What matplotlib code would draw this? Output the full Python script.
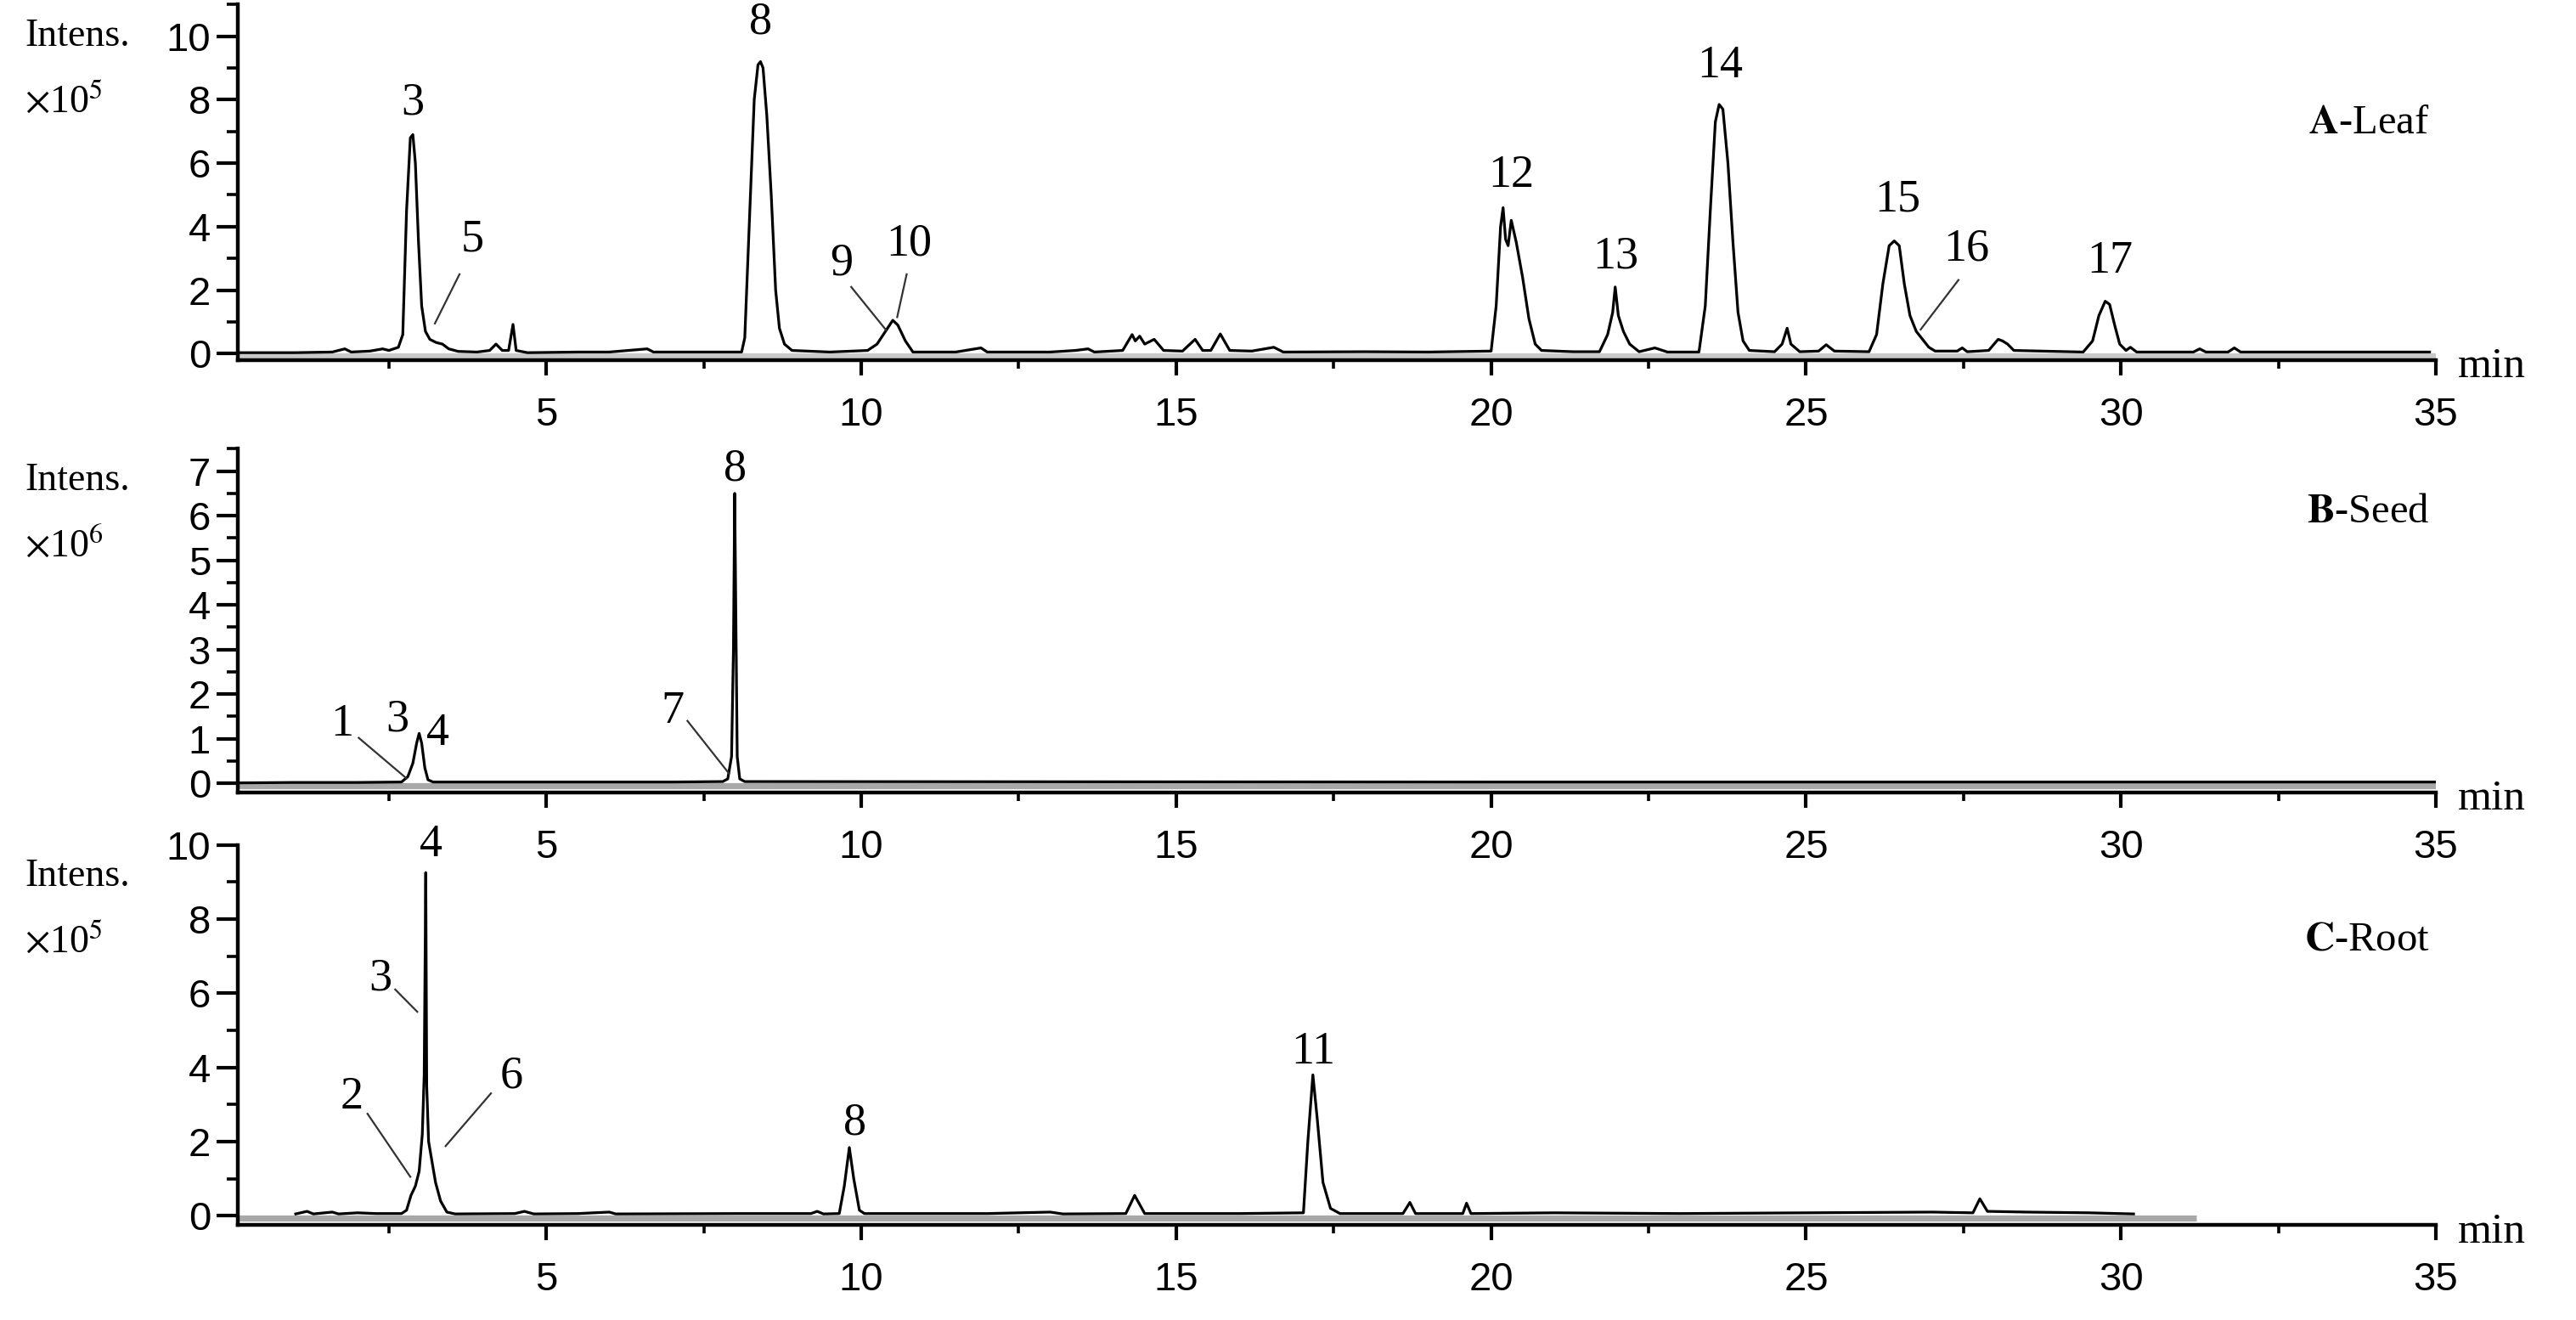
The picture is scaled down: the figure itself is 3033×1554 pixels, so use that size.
import matplotlib
matplotlib.use('Agg')
import matplotlib.pyplot as plt
from matplotlib.ticker import MultipleLocator

plt.rcParams['mathtext.fontset'] = 'stix'
SANS = 'Liberation Sans'
SERIF = 'Liberation Serif'

# ---------------- data ----------------
# Panel A - Leaf, intensity in 1e5
leaf_trace = [
    (0.1, 0.03), (1.0, 0.03), (1.6, 0.05), (1.8, 0.15), (1.9, 0.05), (2.2, 0.08), (2.4, 0.15),
    (2.5, 0.1), (2.65, 0.2), (2.72, 0.6), (2.78, 4.5), (2.84, 6.8), (2.88, 6.9), (2.92, 6.0),
    (2.97, 3.5), (3.02, 1.5), (3.08, 0.7), (3.15, 0.45), (3.25, 0.35), (3.35, 0.3), (3.45, 0.15),
    (3.6, 0.07), (3.9, 0.05), (4.1, 0.1), (4.2, 0.3), (4.3, 0.1), (4.4, 0.1), (4.47, 0.92),
    (4.52, 0.1), (4.7, 0.03), (5.5, 0.05), (6.0, 0.05), (6.6, 0.15), (6.7, 0.05), (7.5, 0.05),
    (8.1, 0.05), (8.15, 0.5), (8.22, 4.0), (8.30, 8.0), (8.36, 9.1), (8.40, 9.2), (8.44, 9.0),
    (8.50, 7.5), (8.57, 5.0), (8.64, 2.0), (8.70, 0.8), (8.78, 0.3), (8.9, 0.1), (9.5, 0.05),
    (10.1, 0.1), (10.25, 0.3), (10.4, 0.75), (10.5, 1.05), (10.58, 0.9), (10.7, 0.4), (10.82, 0.05),
    (11.5, 0.05), (11.9, 0.18), (12.0, 0.05), (13.0, 0.05), (13.4, 0.1), (13.6, 0.15), (13.7, 0.05),
    (14.15, 0.1), (14.3, 0.6), (14.35, 0.4), (14.42, 0.55), (14.5, 0.3), (14.65, 0.45), (14.8, 0.1),
    (15.1, 0.08), (15.3, 0.45), (15.42, 0.1), (15.55, 0.1), (15.7, 0.62), (15.85, 0.1), (16.2, 0.08),
    (16.55, 0.2), (16.7, 0.05), (18.0, 0.06), (19.0, 0.05), (20.0, 0.08), (20.08, 1.5), (20.15, 4.0),
    (20.19, 4.6), (20.23, 3.6), (20.27, 3.4), (20.32, 4.2), (20.40, 3.5), (20.50, 2.4), (20.60, 1.1),
    (20.70, 0.3), (20.8, 0.1), (21.3, 0.06), (21.72, 0.06), (21.85, 0.6), (21.93, 1.3), (21.97, 2.1),
    (22.02, 1.2), (22.1, 0.7), (22.2, 0.3), (22.35, 0.06), (22.6, 0.18), (22.8, 0.05), (23.3, 0.05),
    (23.4, 1.5), (23.48, 4.5), (23.56, 7.3), (23.62, 7.85), (23.68, 7.7), (23.76, 6.0), (23.84, 3.5),
    (23.92, 1.3), (24.0, 0.4), (24.1, 0.1), (24.5, 0.06), (24.62, 0.3), (24.7, 0.8), (24.76, 0.3),
    (24.9, 0.06), (25.2, 0.08), (25.32, 0.28), (25.45, 0.08), (26.0, 0.06), (26.12, 0.6), (26.22, 2.2),
    (26.32, 3.4), (26.40, 3.55), (26.48, 3.4), (26.56, 2.2), (26.65, 1.2), (26.75, 0.7), (26.85, 0.45),
    (26.95, 0.2), (27.05, 0.08), (27.4, 0.08), (27.48, 0.18), (27.56, 0.06), (27.9, 0.1), (28.05, 0.45),
    (28.12, 0.4), (28.2, 0.3), (28.3, 0.1), (29.4, 0.05), (29.55, 0.4), (29.65, 1.2), (29.75, 1.65),
    (29.82, 1.55), (29.9, 0.9), (29.98, 0.3), (30.08, 0.1), (30.15, 0.2), (30.25, 0.05), (31.15, 0.05),
    (31.25, 0.15), (31.35, 0.05), (31.7, 0.05), (31.8, 0.18), (31.9, 0.05), (34.9, 0.05),
]
leaf_labels = ['3', '5', '8', '9', '10', '12', '13', '14', '15', '16', '17']
leaf_label_t = [2.88, 3.83, 8.40, 9.68, 10.76, 20.32, 21.98, 23.63, 26.45, 27.55, 29.82]
leaf_label_y = [7.9, 3.6, 10.45, 2.85, 3.45, 5.6, 3.05, 9.05, 4.85, 3.3, 2.9]
leaf_leaders = [(3.62, 2.5, 3.23, 0.95), (9.84, 2.1, 10.39, 0.75),
                (10.72, 2.5, 10.57, 1.15), (27.42, 2.32, 26.82, 0.76)]

# Panel B - Seed, intensity in 1e6
seed_trace = [
    (0.1, 0.01), (1.0, 0.02), (2.0, 0.02), (2.7, 0.03), (2.8, 0.15), (2.88, 0.45), (2.94, 0.9),
    (2.98, 1.12), (3.02, 0.9), (3.07, 0.35), (3.12, 0.08), (3.2, 0.03), (5.0, 0.03), (7.0, 0.03),
    (7.8, 0.04), (7.88, 0.1), (7.94, 0.6), (7.97, 3.0), (7.99, 6.5), (8.01, 3.5), (8.03, 0.6),
    (8.07, 0.1), (8.15, 0.04), (20.0, 0.03), (35.0, 0.03),
]
seed_labels = ['1', '3', '4', '7', '8']
seed_label_t = [1.76, 2.64, 3.27, 7.0, 8.0]
seed_label_y = [1.32, 1.42, 1.12, 1.6, 7.05]
seed_leaders = [(2.02, 1.02, 2.78, 0.11), (7.24, 1.4, 7.90, 0.22)]

# Panel C - Root, intensity in 1e5
root_trace = [
    (1.02, 0.05), (1.2, 0.12), (1.3, 0.05), (1.6, 0.1), (1.7, 0.05), (2.0, 0.08), (2.3, 0.06),
    (2.70, 0.06), (2.78, 0.15), (2.85, 0.55), (2.92, 0.8), (2.98, 1.2), (3.03, 2.2), (3.06, 3.8),
    (3.085, 9.25), (3.10, 3.5), (3.13, 2.0), (3.18, 1.5), (3.24, 0.9), (3.32, 0.4), (3.42, 0.1),
    (3.55, 0.05), (4.5, 0.06), (4.65, 0.12), (4.8, 0.05), (5.5, 0.06), (6.0, 0.1), (6.1, 0.05),
    (8.0, 0.06), (9.2, 0.06), (9.3, 0.12), (9.4, 0.05), (9.65, 0.06), (9.73, 0.8), (9.81, 1.84),
    (9.88, 1.0), (9.97, 0.15), (10.05, 0.06), (12.0, 0.06), (13.0, 0.1), (13.2, 0.05), (14.2, 0.06),
    (14.34, 0.55), (14.5, 0.06), (16.0, 0.06), (17.02, 0.08), (17.09, 2.0), (17.17, 3.8), (17.24, 2.6),
    (17.33, 0.9), (17.45, 0.2), (17.6, 0.06), (18.6, 0.06), (18.71, 0.36), (18.8, 0.06), (19.55, 0.06),
    (19.61, 0.34), (19.68, 0.06), (21.0, 0.08), (23.0, 0.06), (25.0, 0.08), (27.0, 0.1), (27.65, 0.08),
    (27.76, 0.46), (27.88, 0.12), (28.5, 0.1), (29.5, 0.08), (30.2, 0.05),
]
root_labels = ['4', '3', '2', '6', '8', '11']
root_label_t = [3.17, 2.36, 1.91, 4.45, 9.9, 17.18]
root_label_y = [10.0, 6.4, 3.2, 3.75, 2.5, 4.4]
root_leaders = [(2.6, 6.1, 2.95, 5.5), (2.16, 2.75, 2.84, 1.05), (4.12, 3.3, 3.4, 1.88)]

# grey reference line (start, end) per panel
grey_span = {'A': (0.1, 35.0), 'B': (0.1, 35.0), 'C': (0.1, 31.2)}

x_ticks = [5, 10, 15, 20, 25, 30, 35]

panels = [
    dict(key='A', trace=leaf_trace, labels=leaf_labels, lt=leaf_label_t, ly=leaf_label_y,
         leaders=leaf_leaders, ylim=(-0.2, 11.0), major=2, minor=1, exp='5', title='Leaf',
         title_y=7.25, pos=(0.7273, 0.9966), grey='#c8c8c8'),
    dict(key='B', trace=seed_trace, labels=seed_labels, lt=seed_label_t, ly=seed_label_y,
         leaders=seed_leaders, ylim=(-0.2, 7.5), major=1, minor=0.5, exp='6', title='Seed',
         title_y=6.08, pos=(0.3998, 0.66), grey='#a8a8a8'),
    dict(key='C', trace=root_trace, labels=root_labels, lt=root_label_t, ly=root_label_y,
         leaders=root_leaders, ylim=(-0.24, 10.0), major=2, minor=1, exp='5', title='Root',
         title_y=7.43, pos=(0.0722, 0.36), grey='#a8a8a8'),
]

fig = plt.figure(figsize=(15.165, 7.77), dpi=200)
left, right = 0.0923, 0.9456

for p in panels:
    b, t = p['pos']
    ax = fig.add_axes([left, b, right - left, t - b])
    ax.patch.set_visible(False)
    ax.set_xlim(0.1, 35)
    ax.set_ylim(*p['ylim'])
    for s in ('top', 'right'):
        ax.spines[s].set_visible(False)
    for s in ('left', 'bottom'):
        ax.spines[s].set_linewidth(1.6)
    g0, g1 = grey_span[p['key']]
    ax.plot([g0, g1], [-0.06, -0.06], color=p['grey'], lw=2.6, solid_capstyle='butt', zorder=1)
    tt = [q[0] for q in p['trace']]
    ii = [q[1] for q in p['trace']]
    ax.plot(tt, ii, color='black', lw=1.15, zorder=3)

    ax.set_xticks(x_ticks)
    ax.set_xticklabels([str(v) for v in x_ticks])
    ax.xaxis.set_minor_locator(MultipleLocator(2.5))
    ax.yaxis.set_major_locator(MultipleLocator(p['major']))
    ax.yaxis.set_minor_locator(MultipleLocator(p['minor']))
    ax.tick_params(axis='x', which='major', direction='out', length=6.5, width=1.5, pad=9,
                   labelsize=17)
    ax.tick_params(axis='x', which='minor', direction='out', length=3.5, width=1.3)
    ax.tick_params(axis='y', which='major', direction='out', length=9, width=1.5, pad=2.5,
                   labelsize=17)
    ax.tick_params(axis='y', which='minor', direction='out', length=4.8, width=1.3)
    for lab in ax.get_xticklabels() + ax.get_yticklabels():
        lab.set_fontfamily(SANS)

    for s, x, y in zip(p['labels'], p['lt'], p['ly']):
        ax.text(x, y, s, ha='center', va='center', fontsize=19.5, family=SERIF,
                clip_on=False, zorder=4)
    for (x0, y0, x1, y1) in p['leaders']:
        ax.plot([x0, x1], [y0, y1], color='#333333', lw=0.8, zorder=4)

    ax.text(34.9, p['title_y'], r'$\mathbf{%s}$-%s' % (p['key'], p['title']), ha='right',
            va='center', fontsize=17.5, family=SERIF)
    ax.text(35.35, -0.02, 'min', transform=ax.get_xaxis_transform(), ha='left', va='center',
            fontsize=18.5, family=SERIF, clip_on=False)

    fig.text(0.0096, t - 0.024, 'Intens.', ha='left', va='center', fontsize=16.5, family=SERIF)
    fig.text(0.0096, t - 0.074, r'$\times$10$^{%s}$' % p['exp'], ha='left', va='center',
             fontsize=16.5, family=SERIF)

fig.savefig('out.png', dpi=200, facecolor='white')
